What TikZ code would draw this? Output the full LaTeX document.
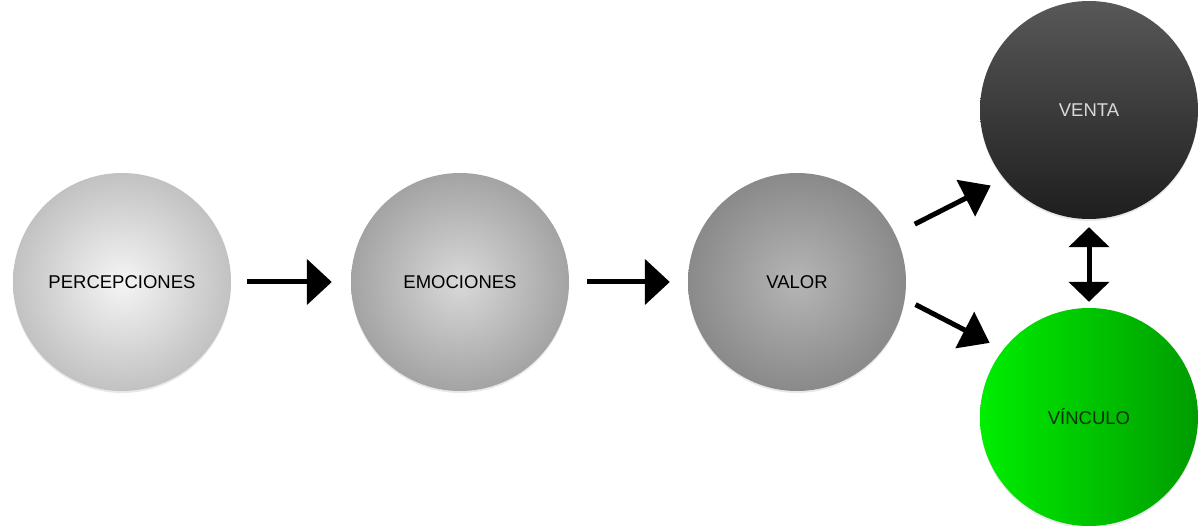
\documentclass[tikz,border=0pt]{standalone}
\usepackage{fontspec}
\setmainfont{Liberation Sans}
\usetikzlibrary{arrows.meta,shadows}

\definecolor{ventatop}{HTML}{585858}
\definecolor{ventabot}{HTML}{1E1E1E}
\definecolor{vincleft}{HTML}{00EE00}
\definecolor{vincright}{HTML}{009C00}
\definecolor{vinctext}{HTML}{0B300B}

\begin{document}
\begin{tikzpicture}[x=1pt, y=-1pt,
    ball/.style={circle, minimum size=218pt, inner sep=0pt, font=\fontsize{18.5}{20}\selectfont,
        drop shadow={shadow xshift=0pt, shadow yshift=-2pt, opacity=0.18}},
    flow/.style={line width=5pt, -{Triangle[length=25pt, width=45pt]}},
    branch/.style={line width=5pt, -{Triangle[length=28pt, width=40pt]}},
    link/.style={line width=5pt, {Triangle[length=20pt, width=40pt]}-{Triangle[length=20pt, width=40pt]}}]
\useasboundingbox (0,0) rectangle (1199,526);
\node[ball, inner color=white!96!black, outer color=white!76!black] (perc) at (122,282) {PERCEPCIONES};
\node[ball, inner color=white!85!black, outer color=white!64!black] (emo) at (460,282) {EMOCIONES};
\node[ball, inner color=white!71!black, outer color=white!54!black] (valor) at (797,282) {VALOR};
\node[ball, top color=ventatop, bottom color=ventabot, text=white!85!black] (venta) at (1089,110) {VENTA};
\node[ball, left color=vincleft, right color=vincright, text=vinctext] (vinc) at (1089,417) {VÍNCULO};
\draw[flow, shorten <=16pt, shorten >=19pt] (perc) -- (emo);
\draw[flow, shorten <=18pt, shorten >=18pt] (emo) -- (valor);
\draw[branch, shorten <=22pt, shorten >=15pt] (valor.26) -- (venta.219);
\draw[branch, shorten <=12pt, shorten >=15pt] (valor.-9) -- (vinc.142);
\draw[link, shorten <=8pt, shorten >=6pt] (venta) -- (vinc);
\end{tikzpicture}
\end{document}
